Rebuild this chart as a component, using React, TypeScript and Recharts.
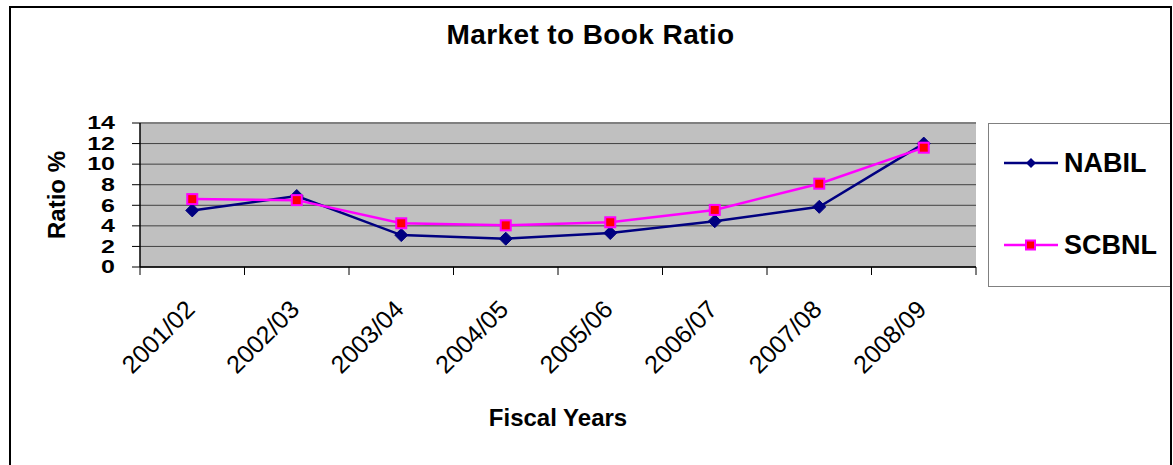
import { CartesianGrid, Line, LineChart, ReferenceLine, XAxis, YAxis } from "recharts";

const years = ["2001/02", "2002/03", "2003/04", "2004/05", "2005/06", "2006/07", "2007/08", "2008/09"];
const nabil = [5.5, 6.9, 3.1, 2.75, 3.3, 4.45, 5.85, 12.0];
const scbnl = [6.6, 6.5, 4.25, 4.05, 4.35, 5.55, 8.1, 11.6];
const yTicks = [0, 2, 4, 6, 8, 10, 12, 14];

const data = years.map((year, i) => ({ year, NABIL: nabil[i], SCBNL: scbnl[i] }));
// category boundaries for the outside tick marks (Excel style)
const boundaries = years.map((_, i) => i).concat(years.length);

const FONT = '"Liberation Sans", Arial, sans-serif';
const NAVY = "#000080";
const MAGENTA = "#FF00FF";

function YTick({ x, y, payload }: any) {
  return (
    <text
      transform={`translate(${x},${y}) scale(1,0.72)`}
      textAnchor="end"
      dy="0.35em"
      fontSize={25}
      fontWeight="bold"
      fontFamily={FONT}
      fill="#000"
    >
      {payload.value}
    </text>
  );
}

function XTick({ x, y, payload, index }: any) {
  const half = payload?.offset ?? 0;
  const tx = x + 4;
  const ty = y + 44;
  return (
    <g>
      {half > 0 && <line x1={x - half} y1={y} x2={x - half} y2={y + 8} stroke="#000" />}
      {half > 0 && index === years.length - 1 && (
        <line x1={x + half} y1={y} x2={x + half} y2={y + 8} stroke="#000" />
      )}
      <text
        x={tx}
        y={ty}
        transform={`rotate(-45, ${tx}, ${ty})`}
        textAnchor="end"
        fontSize={25}
        fontFamily={FONT}
        fill="#000"
      >
        {payload.value}
      </text>
    </g>
  );
}

function diamondDot(props: any) {
  const { cx, cy, index } = props;
  const r = 6.5;
  return (
    <path
      key={`d-${index}`}
      d={`M${cx},${cy - r}L${cx + r},${cy}L${cx},${cy + r}L${cx - r},${cy}Z`}
      fill={NAVY}
      stroke={NAVY}
    />
  );
}

function squareDot(props: any) {
  const { cx, cy, index } = props;
  const s = 10;
  return (
    <rect
      key={`s-${index}`}
      x={cx - s / 2}
      y={cy - s / 2}
      width={s}
      height={s}
      fill="#FF0000"
      stroke={MAGENTA}
      strokeWidth={2}
    />
  );
}

function LegendRow({ name, top, color, square }: { name: string; top: number; color: string; square?: boolean }) {
  return (
    <div style={{ position: "absolute", left: 15, top, height: 30, display: "flex", alignItems: "center" }}>
      <svg width={54} height={14} style={{ display: "block" }}>
        <line x1={0} y1={7} x2={54} y2={7} stroke={color} strokeWidth={2.5} />
        {square ? (
          <rect x={22} y={2.5} width={9} height={9} fill="#FF0000" stroke={MAGENTA} strokeWidth={2} />
        ) : (
          <path d="M27,2L32,7L27,12L22,7Z" fill={NAVY} />
        )}
      </svg>
      <span style={{ marginLeft: 6, fontSize: 27, lineHeight: "27px", fontWeight: "bold", fontFamily: FONT }}>{name}</span>
    </div>
  );
}

export default function App() {
  return (
    <div
      style={{
        position: "absolute",
        left: 0,
        top: 0,
        width: 1173,
        height: 465,
        overflow: "hidden",
        background: "#fff",
        fontFamily: FONT,
      }}
    >
      <LineChart width={1173} height={465} data={data} margin={{ top: 123, right: 197, bottom: 0, left: 0 }}>
        <CartesianGrid horizontal vertical={false} fill="#C0C0C0" fillOpacity={1} stroke="#404040" strokeWidth={1} />
        <XAxis
          dataKey="year"
          scale="band"
          interval={0}
          height={198}
          tickLine={false}
          tickSize={0}
          tickMargin={0}
          axisLine={{ stroke: "#000", strokeWidth: 1.5 }}
          tick={(p: any) => <XTick {...p} />}
        />
        <XAxis
          xAxisId="b"
          type="number"
          domain={[0, years.length]}
          ticks={boundaries}
          height={0}
          tick={false}
          tickSize={8}
          axisLine={false}
          tickLine={{ stroke: "#000" }}
        />
        <YAxis
          width={140}
          domain={[0, 14]}
          ticks={yTicks}
          interval={0}
          tickSize={8}
          tickMargin={17}
          axisLine={{ stroke: "#000", strokeWidth: 1.5 }}
          tickLine={{ stroke: "#000" }}
          tick={(p: any) => <YTick {...p} />}
        />
        <ReferenceLine y={14} stroke="#808080" strokeWidth={2} />
        <ReferenceLine xAxisId="b" x={years.length} stroke="#808080" strokeWidth={2} />
        <Line
          dataKey="NABIL"
          stroke={NAVY}
          strokeWidth={2.5}
          dot={diamondDot}
          activeDot={false}
          isAnimationActive={false}
        />
        <Line
          dataKey="SCBNL"
          stroke={MAGENTA}
          strokeWidth={2.5}
          dot={squareDot}
          activeDot={false}
          isAnimationActive={false}
        />
      </LineChart>

      <div
        style={{
          position: "absolute",
          left: 10,
          width: 1161,
          top: 21,
          textAlign: "center",
          fontSize: 28,
          lineHeight: "28px",
          letterSpacing: 0.4,
          fontWeight: "bold",
        }}
      >
        Market to Book Ratio
      </div>

      <div
        style={{
          position: "absolute",
          left: 140,
          width: 836,
          top: 406,
          textAlign: "center",
          fontSize: 24,
          lineHeight: "24px",
          fontWeight: "bold",
        }}
      >
        Fiscal Years
      </div>

      <div
        style={{
          position: "absolute",
          left: 57 - 100,
          top: 195 - 12,
          width: 200,
          height: 24,
          textAlign: "center",
          fontSize: 24,
          lineHeight: "24px",
          fontWeight: "bold",
          transform: "rotate(-90deg)",
        }}
      >
        Ratio %
      </div>

      <div
        style={{
          position: "absolute",
          left: 988,
          top: 123,
          width: 184,
          height: 164,
          border: "1px solid #808080",
          boxSizing: "border-box",
          background: "#fff",
        }}
      >
        <LegendRow name="NABIL" top={24} color={NAVY} />
        <LegendRow name="SCBNL" top={106} color={MAGENTA} square />
      </div>

      <div
        style={{
          position: "absolute",
          left: 9,
          top: 6,
          width: 1163,
          height: 520,
          border: "2px solid #000",
          boxSizing: "border-box",
        }}
      />
    </div>
  );
}
